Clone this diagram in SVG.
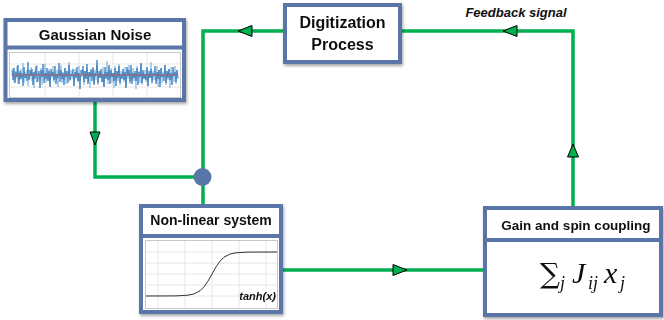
<svg xmlns="http://www.w3.org/2000/svg" width="664" height="320" viewBox="0 0 664 320">
<style>
.box{fill:#fff;stroke:#5a76a8;stroke-width:4}
.div{stroke:#5a76a8;stroke-width:4}
.panel{fill:#fff;stroke:#c8c8c8;stroke-width:1}
.grid{stroke:#e0e0e0;stroke-width:0.8}
.wire{fill:none;stroke:#00b050;stroke-width:3.5}
.arr{fill:#00b050;stroke:#000;stroke-width:1;stroke-linejoin:miter}
.title{font-family:"Liberation Sans",Arial,sans-serif;font-weight:bold;fill:#111;text-anchor:middle}
.math{font-family:"Liberation Serif","DejaVu Serif",serif;font-style:italic;fill:#111}
</style>
<defs>
<filter id="sh" x="-10%" y="-10%" width="120%" height="130%">
<feDropShadow dx="1" dy="2" stdDeviation="1.5" flood-color="#000" flood-opacity="0.35"/>
</filter>
</defs>
<rect width="664" height="320" fill="#fff"/>
<g id="connectors">
<polyline class="wire" points="95,101 95,177 203,177"/>
<polyline class="wire" points="203,206 203,31 285,31"/>
<polyline class="wire" points="400,31 573,31 573,208"/>
<polyline class="wire" points="283,270 485,270"/>
<polygon class="arr" points="90,132 100,132 95,145"/>
<polygon class="arr" points="238,31 252,25.5 252,36.5"/>
<polygon class="arr" points="503,31 517,25.5 517,36.5"/>
<polygon class="arr" points="573,144 567.5,157 578.5,157"/>
<polygon class="arr" points="407,270 393,264.5 393,275.5"/>
<circle id="junction" cx="202.5" cy="177" r="9" fill="#5a76a8"/>
<text x="516" y="17" font-family="Liberation Sans,Arial,sans-serif" font-size="13" font-weight="bold" font-style="italic" fill="#111" text-anchor="middle">Feedback signal</text>
</g>
<g id="gaussian-noise" filter="url(#sh)">
<rect class="box" x="5.5" y="20" width="178.5" height="80"/>
<line class="div" x1="5.5" y1="47.5" x2="184" y2="47.5"/>
<rect class="panel" x="9.5" y="52.5" width="171" height="45"/>
<g class="grid">
<line x1="45" y1="53" x2="45" y2="97"/><line x1="79" y1="53" x2="79" y2="97"/><line x1="113" y1="53" x2="113" y2="97"/><line x1="147" y1="53" x2="147" y2="97"/>
<line x1="10" y1="64" x2="180" y2="64"/><line x1="10" y1="87" x2="180" y2="87"/>
</g>
<polyline fill="none" stroke="#8ab8e0" stroke-width="0.8" points="12,76 13,68 14,82 15,71 16,79 17,66 18,84 19,73 20,80 21,69 22,77 23,63 24,83 25,72 26,78 27,70 28,86 29,74 30,79 31,67 32,81 33,72 34,88 35,70 36,76 37,65 38,82 39,73 40,79 41,68 42,85 43,71 44,77 45,64 46,83 47,74 48,80 49,69 50,86 51,72 52,78 53,66 54,82 55,75 56,79 57,70 58,87 59,71 60,76 61,65 62,83 63,72 64,80 65,68 66,84 67,73 68,77 69,62 70,81 71,70 72,79 73,74 74,86 75,69 76,78 77,72 78,82 79,66 80,80 81,75 82,77 83,70 84,85 85,71 86,79 87,68 88,82 89,72 90,88 91,69 92,76 93,67 94,83 95,70 96,80 97,65 98,85 99,73 100,78 101,71 102,82 103,67 104,86 105,72 106,77 107,61 108,84 109,70 110,79 111,68 112,83 113,73 114,88 115,66 116,80 117,71 118,81 119,64 120,85 121,71 122,78 123,72 124,82 125,67 126,87 127,70 128,79 129,65 130,84 131,75 132,80 133,68 134,81 135,73 136,89 137,66 138,77 139,71 140,83 141,64 142,85 143,72 144,79 145,70 146,82 147,69 148,86 149,73 150,78 151,62 152,84 153,71 154,80 155,73 156,81 157,66 158,87 159,70 160,79 161,68 162,83 163,72 164,77 165,65 166,85 167,71 168,80 169,69 170,88 171,67 172,78 173,73 174,82 175,66 176,84 177,70 178,78"/>
<polyline fill="none" stroke="#2e75b6" stroke-width="0.8" points="12,70 13,80 14,68 15,83 16,72 17,77 18,65 19,84 20,71 21,79 22,73 23,86 24,67 25,78 26,74 27,81 28,62 29,80 30,70 31,76 32,69 33,85 34,72 35,79 36,66 37,82 38,75 39,71 40,88 41,70 42,77 43,64 44,83 45,73 46,79 47,68 48,81 49,71 50,87 51,69 52,76 53,72 54,80 55,66 56,84 57,74 58,78 59,63 60,82 61,70 62,79 63,73 64,85 65,68 66,77 67,71 68,83 69,65 70,80 71,74 72,76 73,69 74,86 75,72 76,78 77,67 78,81 79,73 80,89 81,70 82,75 83,66 84,82 85,71 86,79 87,64 88,84 89,72 90,77 91,70 92,81 93,68 94,85 95,73 96,76 97,60 98,83 99,71 100,78 101,69 102,82 103,74 104,87 105,67 106,79 107,72 108,80 109,65 110,84 111,70 112,77 113,73 114,81 115,68 116,86 117,71 118,78 119,66 120,83 121,74 122,79 123,69 124,80 125,72 126,88 127,67 128,76 129,70 130,82 131,65 132,84 133,73 134,78 135,71 136,81 137,68 138,85 139,72 140,77 141,63 142,83 143,70 144,79 145,74 146,80 147,67 148,86 149,71 150,78 151,69 152,82 153,73 154,76 155,66 156,84 157,72 158,79 159,70 160,87 161,68 162,77 163,74 164,81 165,65 166,83 167,71 168,78 169,69 170,80 171,73 172,85 173,67 174,76 175,72 176,82 177,70 178,79"/>
<line x1="12" y1="75" x2="178" y2="75" stroke="#c0504d" stroke-width="0.8"/>
<text class="title" x="95" y="40" font-size="15">Gaussian Noise</text>
</g>
<g id="digitization" filter="url(#sh)">
<rect class="box" x="285" y="5" width="115" height="57"/>
<text class="title" x="342.5" y="28" font-size="16">Digitization</text>
<text class="title" x="342.5" y="50" font-size="16">Process</text>
</g>
<g id="non-linear-system" filter="url(#sh)">
<rect class="box" x="141" y="206" width="140" height="106"/>
<line class="div" x1="141" y1="236" x2="281" y2="236"/>
<rect class="panel" x="145.5" y="240.5" width="132" height="68"/>
<g class="grid">
<line x1="158" y1="241" x2="158" y2="308"/><line x1="185" y1="241" x2="185" y2="308"/><line x1="212" y1="241" x2="212" y2="308"/><line x1="239" y1="241" x2="239" y2="308"/><line x1="266" y1="241" x2="266" y2="308"/>
<line x1="146" y1="252" x2="277" y2="252"/><line x1="146" y1="263" x2="277" y2="263"/><line x1="146" y1="274" x2="277" y2="274"/><line x1="146" y1="285" x2="277" y2="285"/><line x1="146" y1="296" x2="277" y2="296"/>
</g>
<polyline fill="none" stroke="#333" stroke-width="1" points="146,296 176,295.9 188,295.2 194,293.9 200,290.8 204,286.8 208,281.1 212,274 216,266.9 220,261.2 224,257.2 230,254.1 236,252.8 248,252.1 277,252"/>
<text x="276" y="300" font-family="Liberation Sans,Arial,sans-serif" font-size="11" font-weight="bold" font-style="italic" fill="#111" text-anchor="end">tanh(x)</text>
<text class="title" x="211" y="225" font-size="14">Non-linear system</text>
</g>
<g id="gain-spin-coupling" filter="url(#sh)">
<rect class="box" x="485" y="208" width="176" height="107"/>
<line class="div" x1="485" y1="240" x2="661" y2="240"/>
<text class="title" x="576" y="230" font-size="13.5">Gain and spin coupling</text>
<text x="540" y="283" font-family="DejaVu Serif,serif" font-size="28" fill="#111">∑</text>
<text class="math" x="560" y="289" font-size="18">j</text>
<text class="math" x="572" y="283" font-size="30">J</text>
<text class="math" x="588" y="289" font-size="18">ij</text>
<text class="math" x="604" y="283" font-size="30">x</text>
<text class="math" x="620" y="289" font-size="18">j</text>
</g>
</svg>
